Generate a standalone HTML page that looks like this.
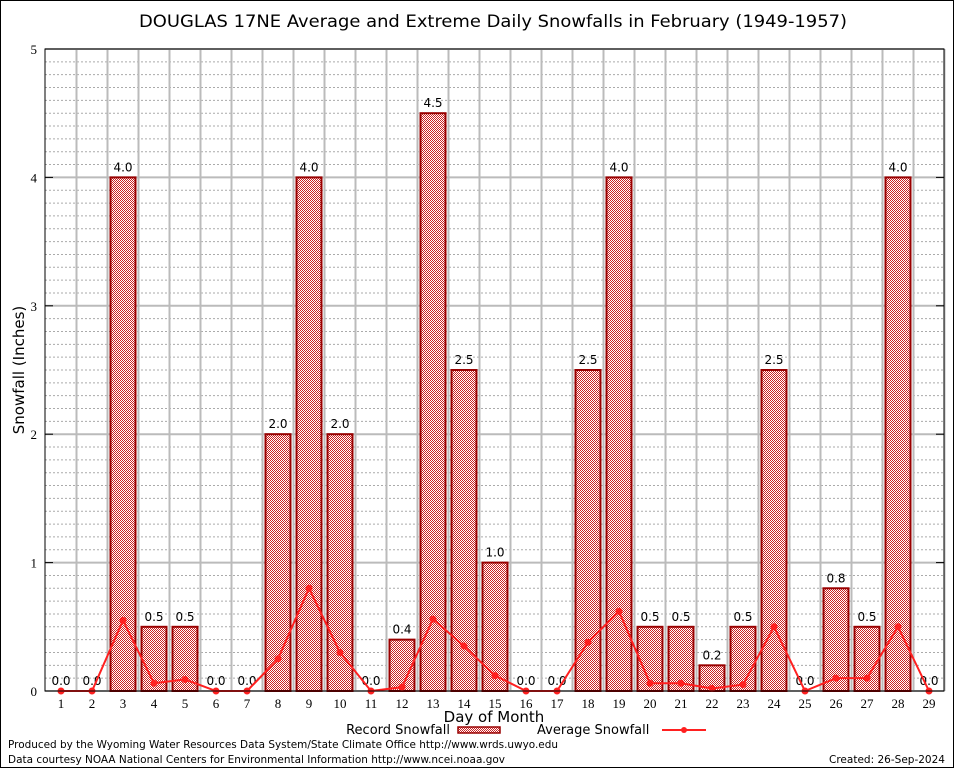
<!DOCTYPE html>
<html><head><meta charset="utf-8"><style>
html,body{margin:0;padding:0;background:#fff;}
svg{display:block;font-family:"DejaVu Sans","Liberation Sans",sans-serif;}
</style></head><body>
<svg id="chart" width="954" height="768" viewBox="0 0 954 768">
<defs>
<pattern id="chk" width="2" height="2" patternUnits="userSpaceOnUse">
<rect width="2" height="2" fill="#fff"/><rect width="1" height="1" fill="#cc2222"/><rect x="1" y="1" width="1" height="1" fill="#cc2222"/>
</pattern>
</defs>
<rect x="0.5" y="0.5" width="953" height="767" fill="#fff" stroke="#000"/>
<text x="493" y="27" font-size="17" text-anchor="middle" textLength="708" lengthAdjust="spacingAndGlyphs">DOUGLAS 17NE Average and Extreme Daily Snowfalls in February (1949-1957)</text>
<g id="grid"></g>
<g id="bars"></g>
<g id="line"></g>
<g id="axes"></g>
<text transform="translate(24,370) rotate(-90)" font-size="15" text-anchor="middle">Snowfall (Inches)</text>
<text x="494" y="722" font-size="15" text-anchor="middle">Day of Month</text>
<g>
<text x="450" y="734" font-size="13" text-anchor="end">Record Snowfall</text>
<rect x="458" y="727" width="42" height="6" fill="url(#chk)" stroke="#990000" stroke-width="1.5"/>
<text x="537" y="734" font-size="13">Average Snowfall</text>
<line x1="662" y1="730" x2="706" y2="730" stroke="#ff2020" stroke-width="2"/>
<circle cx="684" cy="730" r="3" fill="#ff2020"/>
</g>
<text x="8" y="748" font-size="11" textLength="550" lengthAdjust="spacingAndGlyphs">Produced by the Wyoming Water Resources Data System/State Climate Office http://www.wrds.uwyo.edu</text>
<text x="8" y="763" font-size="11" textLength="497" lengthAdjust="spacingAndGlyphs">Data courtesy NOAA National Centers for Environmental Information http://www.ncei.noaa.gov</text>
<text x="945" y="763" font-size="11" text-anchor="end" textLength="116" lengthAdjust="spacingAndGlyphs">Created:  26-Sep-2024</text>
</svg>
<script>
const days=[1,2,3,4,5,6,7,8,9,10,11,12,13,14,15,16,17,18,19,20,21,22,23,24,25,26,27,28,29];
const recordValues=[0,0,4.0,0.5,0.5,0,0,2.0,4.0,2.0,0,0.4,4.5,2.5,1.0,0,0,2.5,4.0,0.5,0.5,0.2,0.5,2.5,0,0.8,0.5,4.0,0];
const averageValues=[0,0,0.55,0.06,0.09,0,0,0.25,0.8,0.3,0,0.03,0.56,0.35,0.12,0,0,0.38,0.62,0.06,0.06,0.02,0.05,0.5,0,0.1,0.1,0.5,0];
const yTicks=[0,1,2,3,4,5];
const NS="http://www.w3.org/2000/svg";
const L=45,R=944,T=49,B=691,YMAX=5;
function xs(d){return 61+(d-1)*31;}
function ys(v){return B-(v/YMAX)*(B-T);}
function mk(t,a,p){const e=document.createElementNS(NS,t);for(const k in a)e.setAttribute(k,a[k]);p.appendChild(e);return e;}
const grid=document.getElementById('grid'),bars=document.getElementById('bars'),line=document.getElementById('line'),axes=document.getElementById('axes');
for(let i=1;i<YMAX*10;i++){if(i%10===0)continue;const y=ys(i/10);
const g=mk('line',{x1:L,x2:R,y1:y,y2:y,stroke:'#aaa','stroke-dasharray':'2,2','stroke-width':1},grid);

}
yTicks.forEach(v=>{const y=ys(v);
const g=mk('line',{x1:L,x2:R,y1:y,y2:y,stroke:'#bbb','stroke-width':2},grid);


const t=mk('text',{x:L-8,y:y+5,'font-size':13,'text-anchor':'end','font-family':'Liberation Serif, serif'},axes);t.textContent=v;


mk('line',{x1:L,x2:L+8,y1:y,y2:y,stroke:'#000'},axes);mk('line',{x1:R-8,x2:R,y1:y,y2:y,stroke:'#000'},axes);});
days.forEach((d,i)=>{const x=xs(d);
const g=mk('line',{x1:x+15.5,x2:x+15.5,y1:T,y2:B,stroke:'#bbb','stroke-width':2},grid);


const t=mk('text',{x:x,y:B+17,'font-size':13,'text-anchor':'middle','font-family':'Liberation Serif, serif'},axes);t.textContent=d;


const v=recordValues[i];
if(v>0){const b=mk('rect',{x:x-12.5,y:ys(v),width:25,height:B-ys(v),fill:'url(#chk)',stroke:'#990000','stroke-width':2},bars);

}
const lb=mk('text',{x:x,y:ys(v)-6,'font-size':12,'text-anchor':'middle'},bars);lb.textContent=v.toFixed(1);

});
const pts=days.map((d,i)=>xs(d)+','+ys(averageValues[i])).join(' ');
const pl=mk('polyline',{points:pts,fill:'none',stroke:'#ff2020','stroke-width':2},line);


days.forEach((d,i)=>{const c=mk('circle',{cx:xs(d),cy:ys(averageValues[i]),r:3.5,fill:'#ff2020'},line);

});
const fr=mk('rect',{x:L,y:T,width:R-L,height:B-T,fill:'none',stroke:'#000','stroke-width':1},axes);


</script>
</body></html>
